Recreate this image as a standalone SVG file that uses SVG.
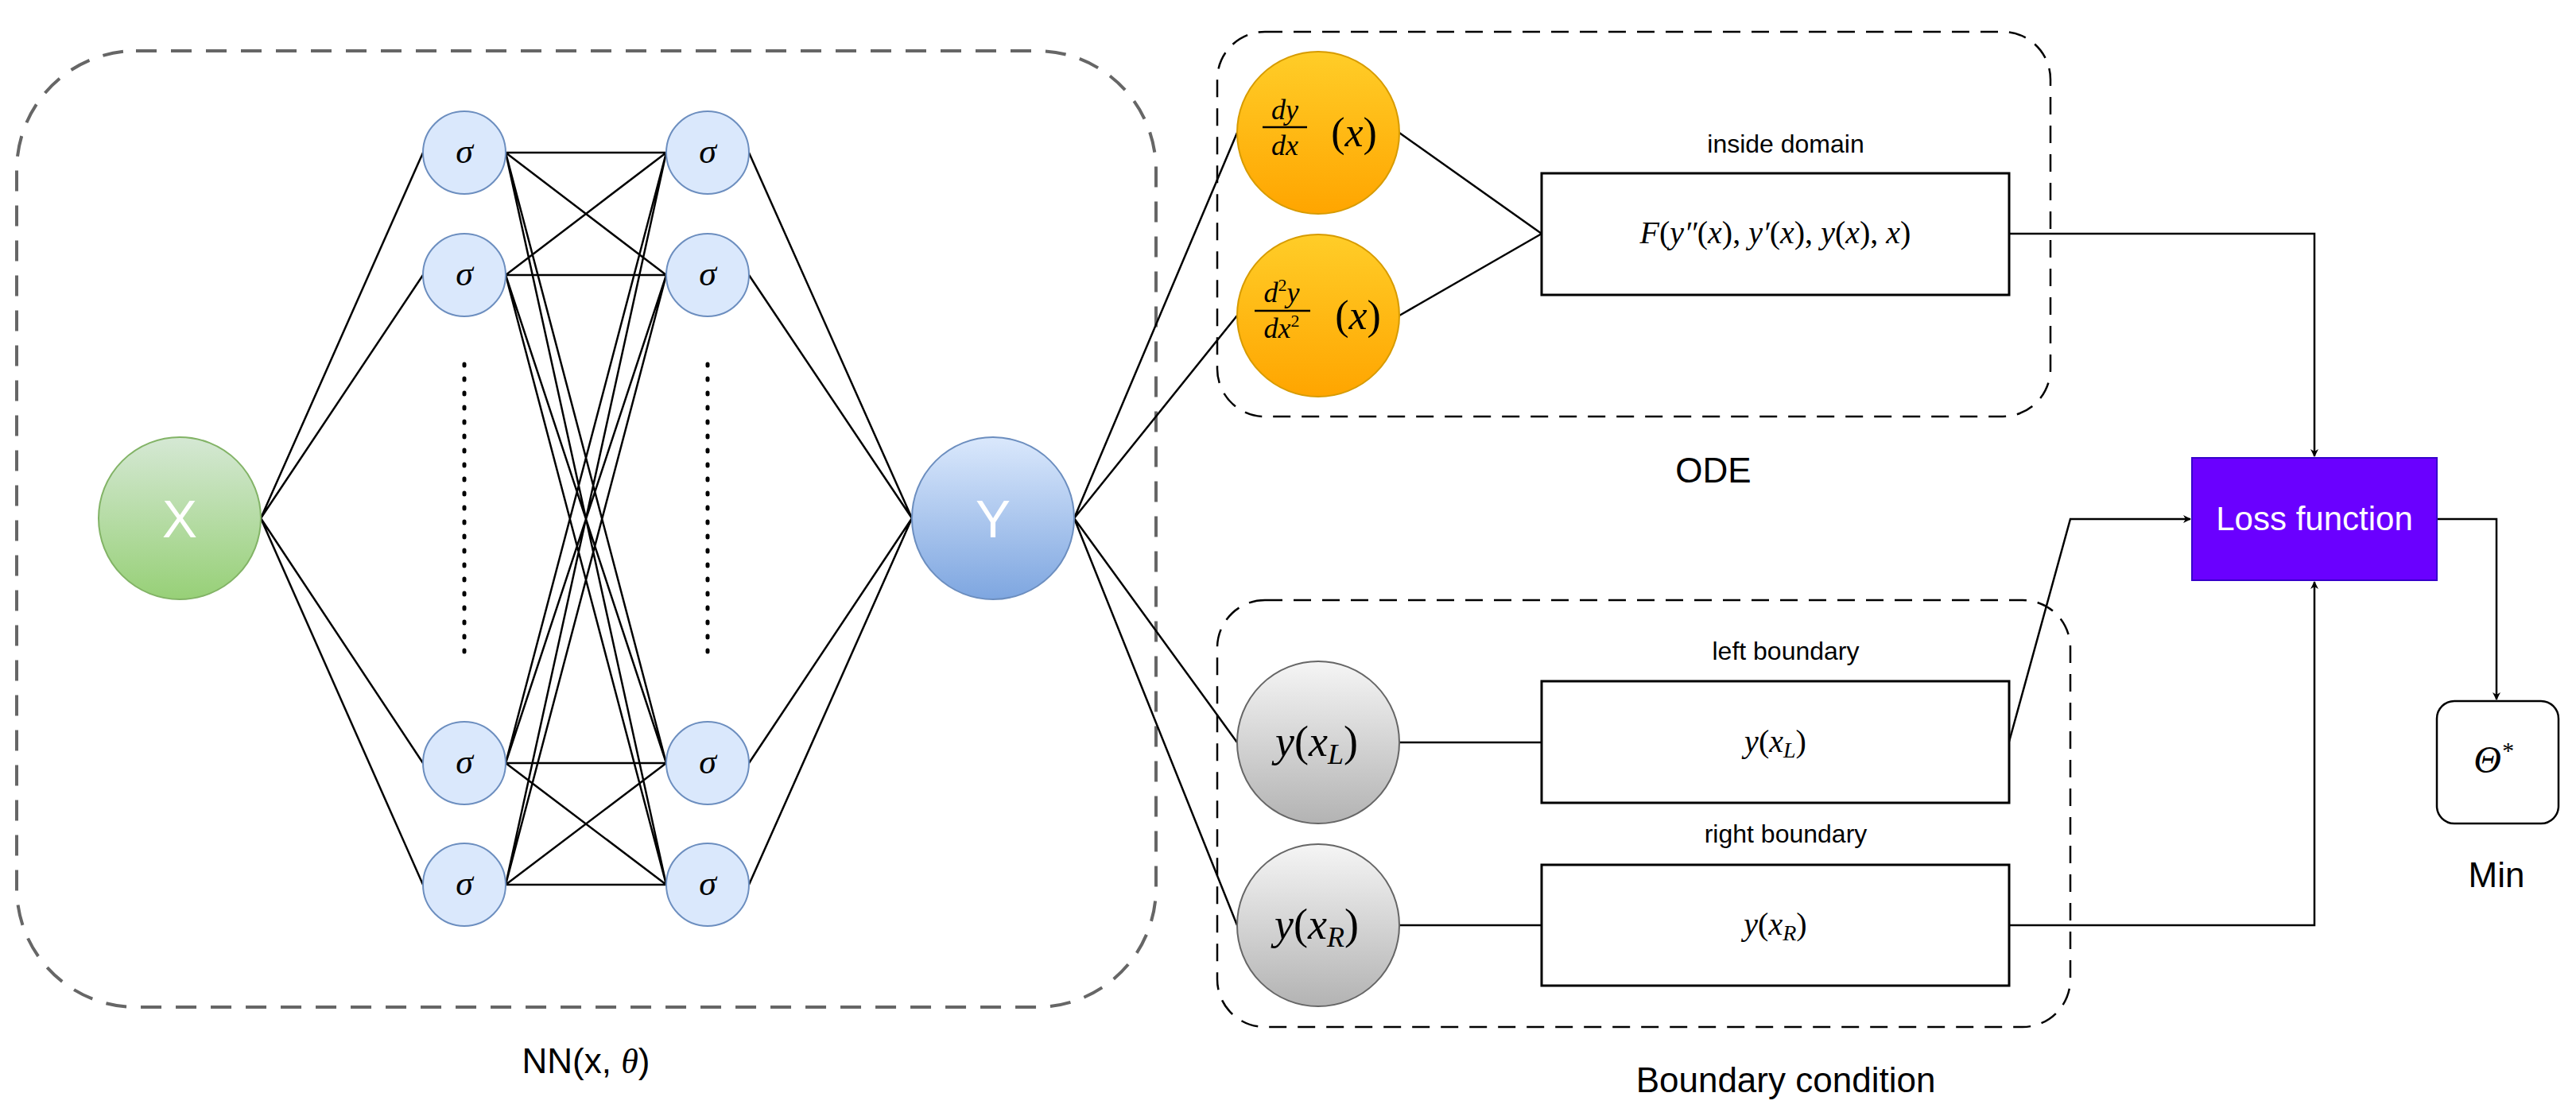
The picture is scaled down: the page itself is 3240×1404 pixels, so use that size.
<svg xmlns="http://www.w3.org/2000/svg" width="3240" height="1404" viewBox="0 0 3240 1404">
<defs>
<linearGradient id="gG" x1="0" y1="0" x2="0" y2="1"><stop offset="0" stop-color="#d5e8d4"/><stop offset="1" stop-color="#97d077"/></linearGradient>
<linearGradient id="gB" x1="0" y1="0" x2="0" y2="1"><stop offset="0" stop-color="#dae8fc"/><stop offset="1" stop-color="#7ea6e0"/></linearGradient>
<linearGradient id="gO" x1="0" y1="0" x2="0" y2="1"><stop offset="0" stop-color="#ffcd28"/><stop offset="1" stop-color="#ffa500"/></linearGradient>
<linearGradient id="gS" x1="0" y1="0" x2="0" y2="1"><stop offset="0" stop-color="#f5f5f5"/><stop offset="1" stop-color="#b3b3b3"/></linearGradient>
<marker id="ah" markerWidth="10" markerHeight="10" refX="9" refY="5" orient="auto" markerUnits="userSpaceOnUse" viewBox="0 0 10 10"><path d="M0,0 L10,5 L0,10 L3,5 Z" fill="#000"/></marker>
</defs>
<style>
.ln{stroke:#000;stroke-width:2.5;fill:none}
.sig{fill:#dae8fc;stroke:#6c8ebf;stroke-width:2}
.m{font-family:"Liberation Serif",serif;font-style:italic;fill:#000}
.t{font-family:"Liberation Sans",Arial,sans-serif;fill:#000;text-anchor:middle}
.box{fill:#fff;stroke:#000;stroke-width:3}
</style>
<rect width="3240" height="1404" fill="#fff"/>
<g id="nn-frame"><rect x="21" y="64" width="1433" height="1203" rx="150" fill="none" stroke="#666" stroke-width="4" stroke-dasharray="26 18"/></g>
<g id="ode-frame"><rect x="1531" y="40" width="1048" height="484" rx="60" fill="none" stroke="#000" stroke-width="2.5" stroke-dasharray="22 14"/></g>
<g id="bc-frame"><rect x="1531" y="755" width="1073" height="537" rx="60" fill="none" stroke="#000" stroke-width="2.5" stroke-dasharray="22 14"/></g>
<g id="connectors" class="ln">
<path d="M328 652L532 192M328 652L532 346M328 652L532 960M328 652L532 1113"/>
<path d="M636 192L838 192M636 192L838 346M636 192L838 960M636 192L838 1113
M636 346L838 192M636 346L838 346M636 346L838 960M636 346L838 1113
M636 960L838 192M636 960L838 346M636 960L838 960M636 960L838 1113
M636 1113L838 192M636 1113L838 346M636 1113L838 960M636 1113L838 1113"/>
<path d="M942 192L1147 652M942 346L1147 652M942 960L1147 652M942 1113L1147 652"/>
<path d="M1351 652L1556 167M1351 652L1556 397M1351 652L1556 934M1351 652L1556 1164"/>
<path d="M1760 167L1939 294M1760 397L1939 294M1760 934L1939 934M1760 1164L1939 1164"/>
<path d="M2527 294L2911 294L2911 574" marker-end="url(#ah)"/>
<path d="M2527 933L2604 653L2755 653" marker-end="url(#ah)"/>
<path d="M2527 1164L2911 1164L2911 732" marker-end="url(#ah)"/>
<path d="M3065 653L3140 653L3140 880" marker-end="url(#ah)"/>
<path d="M584 458V831M890 458V831" stroke-width="5" stroke-dasharray="2 16" stroke-linecap="round"/>
</g>
<g id="X"><circle cx="226" cy="652" r="102" fill="url(#gG)" stroke="#82b366" stroke-width="2"/><text x="226" y="676" class="t" font-size="66" fill="#fff" style="fill:#fff">X</text></g>
<g id="Y"><circle cx="1249" cy="652" r="102" fill="url(#gB)" stroke="#6c8ebf" stroke-width="2"/><text x="1249" y="676" class="t" font-size="66" style="fill:#fff">Y</text></g>
<g id="h1a"><circle cx="584" cy="192" r="52" class="sig"/><text x="584" y="205" class="m" font-size="44" text-anchor="middle">σ</text></g>
<g id="h1b"><circle cx="584" cy="346" r="52" class="sig"/><text x="584" y="359" class="m" font-size="44" text-anchor="middle">σ</text></g>
<g id="h1c"><circle cx="584" cy="960" r="52" class="sig"/><text x="584" y="973" class="m" font-size="44" text-anchor="middle">σ</text></g>
<g id="h1d"><circle cx="584" cy="1113" r="52" class="sig"/><text x="584" y="1126" class="m" font-size="44" text-anchor="middle">σ</text></g>
<g id="h2a"><circle cx="890" cy="192" r="52" class="sig"/><text x="890" y="205" class="m" font-size="44" text-anchor="middle">σ</text></g>
<g id="h2b"><circle cx="890" cy="346" r="52" class="sig"/><text x="890" y="359" class="m" font-size="44" text-anchor="middle">σ</text></g>
<g id="h2c"><circle cx="890" cy="960" r="52" class="sig"/><text x="890" y="973" class="m" font-size="44" text-anchor="middle">σ</text></g>
<g id="h2d"><circle cx="890" cy="1113" r="52" class="sig"/><text x="890" y="1126" class="m" font-size="44" text-anchor="middle">σ</text></g>
<g id="nn-label"><text x="737" y="1350" class="t" font-size="44">NN(x, <tspan font-family="Liberation Serif" font-style="italic">θ</tspan>)</text></g>
<g id="dydx"><circle cx="1658" cy="167" r="102" fill="url(#gO)" stroke="#d79b00" stroke-width="2"/>
<text x="1616" y="150" class="m" font-size="36" text-anchor="middle">dy</text><line x1="1588" y1="160" x2="1644" y2="160" stroke="#000" stroke-width="2.5"/><text x="1616" y="195" class="m" font-size="36" text-anchor="middle">dx</text>
<text x="1703" y="184" class="m" font-size="52" text-anchor="middle"><tspan font-style="normal">(</tspan>x<tspan font-style="normal">)</tspan></text></g>
<g id="d2ydx2"><circle cx="1658" cy="397" r="102" fill="url(#gO)" stroke="#d79b00" stroke-width="2"/>
<text x="1612" y="380" class="m" font-size="36" text-anchor="middle">d<tspan font-size="22" dy="-14" font-style="normal">2</tspan><tspan dy="14">y</tspan></text><line x1="1578" y1="391" x2="1648" y2="391" stroke="#000" stroke-width="2.5"/><text x="1612" y="425" class="m" font-size="36" text-anchor="middle">dx<tspan font-size="22" dy="-14" font-style="normal">2</tspan></text>
<text x="1708" y="414" class="m" font-size="52" text-anchor="middle"><tspan font-style="normal">(</tspan>x<tspan font-style="normal">)</tspan></text></g>
<g id="yL"><circle cx="1658" cy="934" r="102" fill="url(#gS)" stroke="#666" stroke-width="2"/><text x="1656" y="951" class="m" font-size="54" text-anchor="middle">y<tspan font-style="normal">(</tspan>x<tspan font-size="36" dy="10">L</tspan><tspan dy="-10" font-style="normal">)</tspan></text></g>
<g id="yR"><circle cx="1658" cy="1164" r="102" fill="url(#gS)" stroke="#666" stroke-width="2"/><text x="1656" y="1181" class="m" font-size="54" text-anchor="middle">y<tspan font-style="normal">(</tspan>x<tspan font-size="36" dy="10">R</tspan><tspan dy="-10" font-style="normal">)</tspan></text></g>
<g id="F"><rect x="1939" y="218" width="588" height="153" class="box"/><text x="2233" y="306" class="m" font-size="40" text-anchor="middle">F<tspan font-style="normal">(</tspan>y″<tspan font-style="normal">(</tspan>x<tspan font-style="normal">), </tspan>y′<tspan font-style="normal">(</tspan>x<tspan font-style="normal">), </tspan>y<tspan font-style="normal">(</tspan>x<tspan font-style="normal">), </tspan>x<tspan font-style="normal">)</tspan></text>
<text x="2246" y="192" class="t" font-size="32">inside domain</text></g>
<g id="BL"><rect x="1939" y="857" width="588" height="153" class="box"/><text x="2233" y="946" class="m" font-size="40" text-anchor="middle">y<tspan font-style="normal">(</tspan>x<tspan font-size="28" dy="7">L</tspan><tspan dy="-7" font-style="normal">)</tspan></text>
<text x="2246" y="830" class="t" font-size="32">left boundary</text></g>
<g id="BR"><rect x="1939" y="1088" width="588" height="152" class="box"/><text x="2233" y="1176" class="m" font-size="40" text-anchor="middle">y<tspan font-style="normal">(</tspan>x<tspan font-size="28" dy="7">R</tspan><tspan dy="-7" font-style="normal">)</tspan></text>
<text x="2246" y="1060" class="t" font-size="32">right boundary</text></g>
<g id="ode-label"><text x="2155" y="607" class="t" font-size="44">ODE</text></g>
<g id="bc-label"><text x="2246" y="1374" class="t" font-size="44">Boundary condition</text></g>
<g id="loss"><rect x="2757" y="576" width="308" height="154" fill="#6a00ff" stroke="#3700cc" stroke-width="2"/><text x="2911" y="667" class="t" font-size="42" style="fill:#fff">Loss function</text></g>
<g id="theta"><rect x="3065" y="882" width="153" height="154" rx="22" fill="#fff" stroke="#000" stroke-width="2.5"/><text x="3136" y="972" class="m" font-size="48" text-anchor="middle" font-style="normal">Θ<tspan font-size="30" dy="-18">*</tspan></text>
<text x="3140" y="1116" class="t" font-size="44">Min</text></g>
</svg>
